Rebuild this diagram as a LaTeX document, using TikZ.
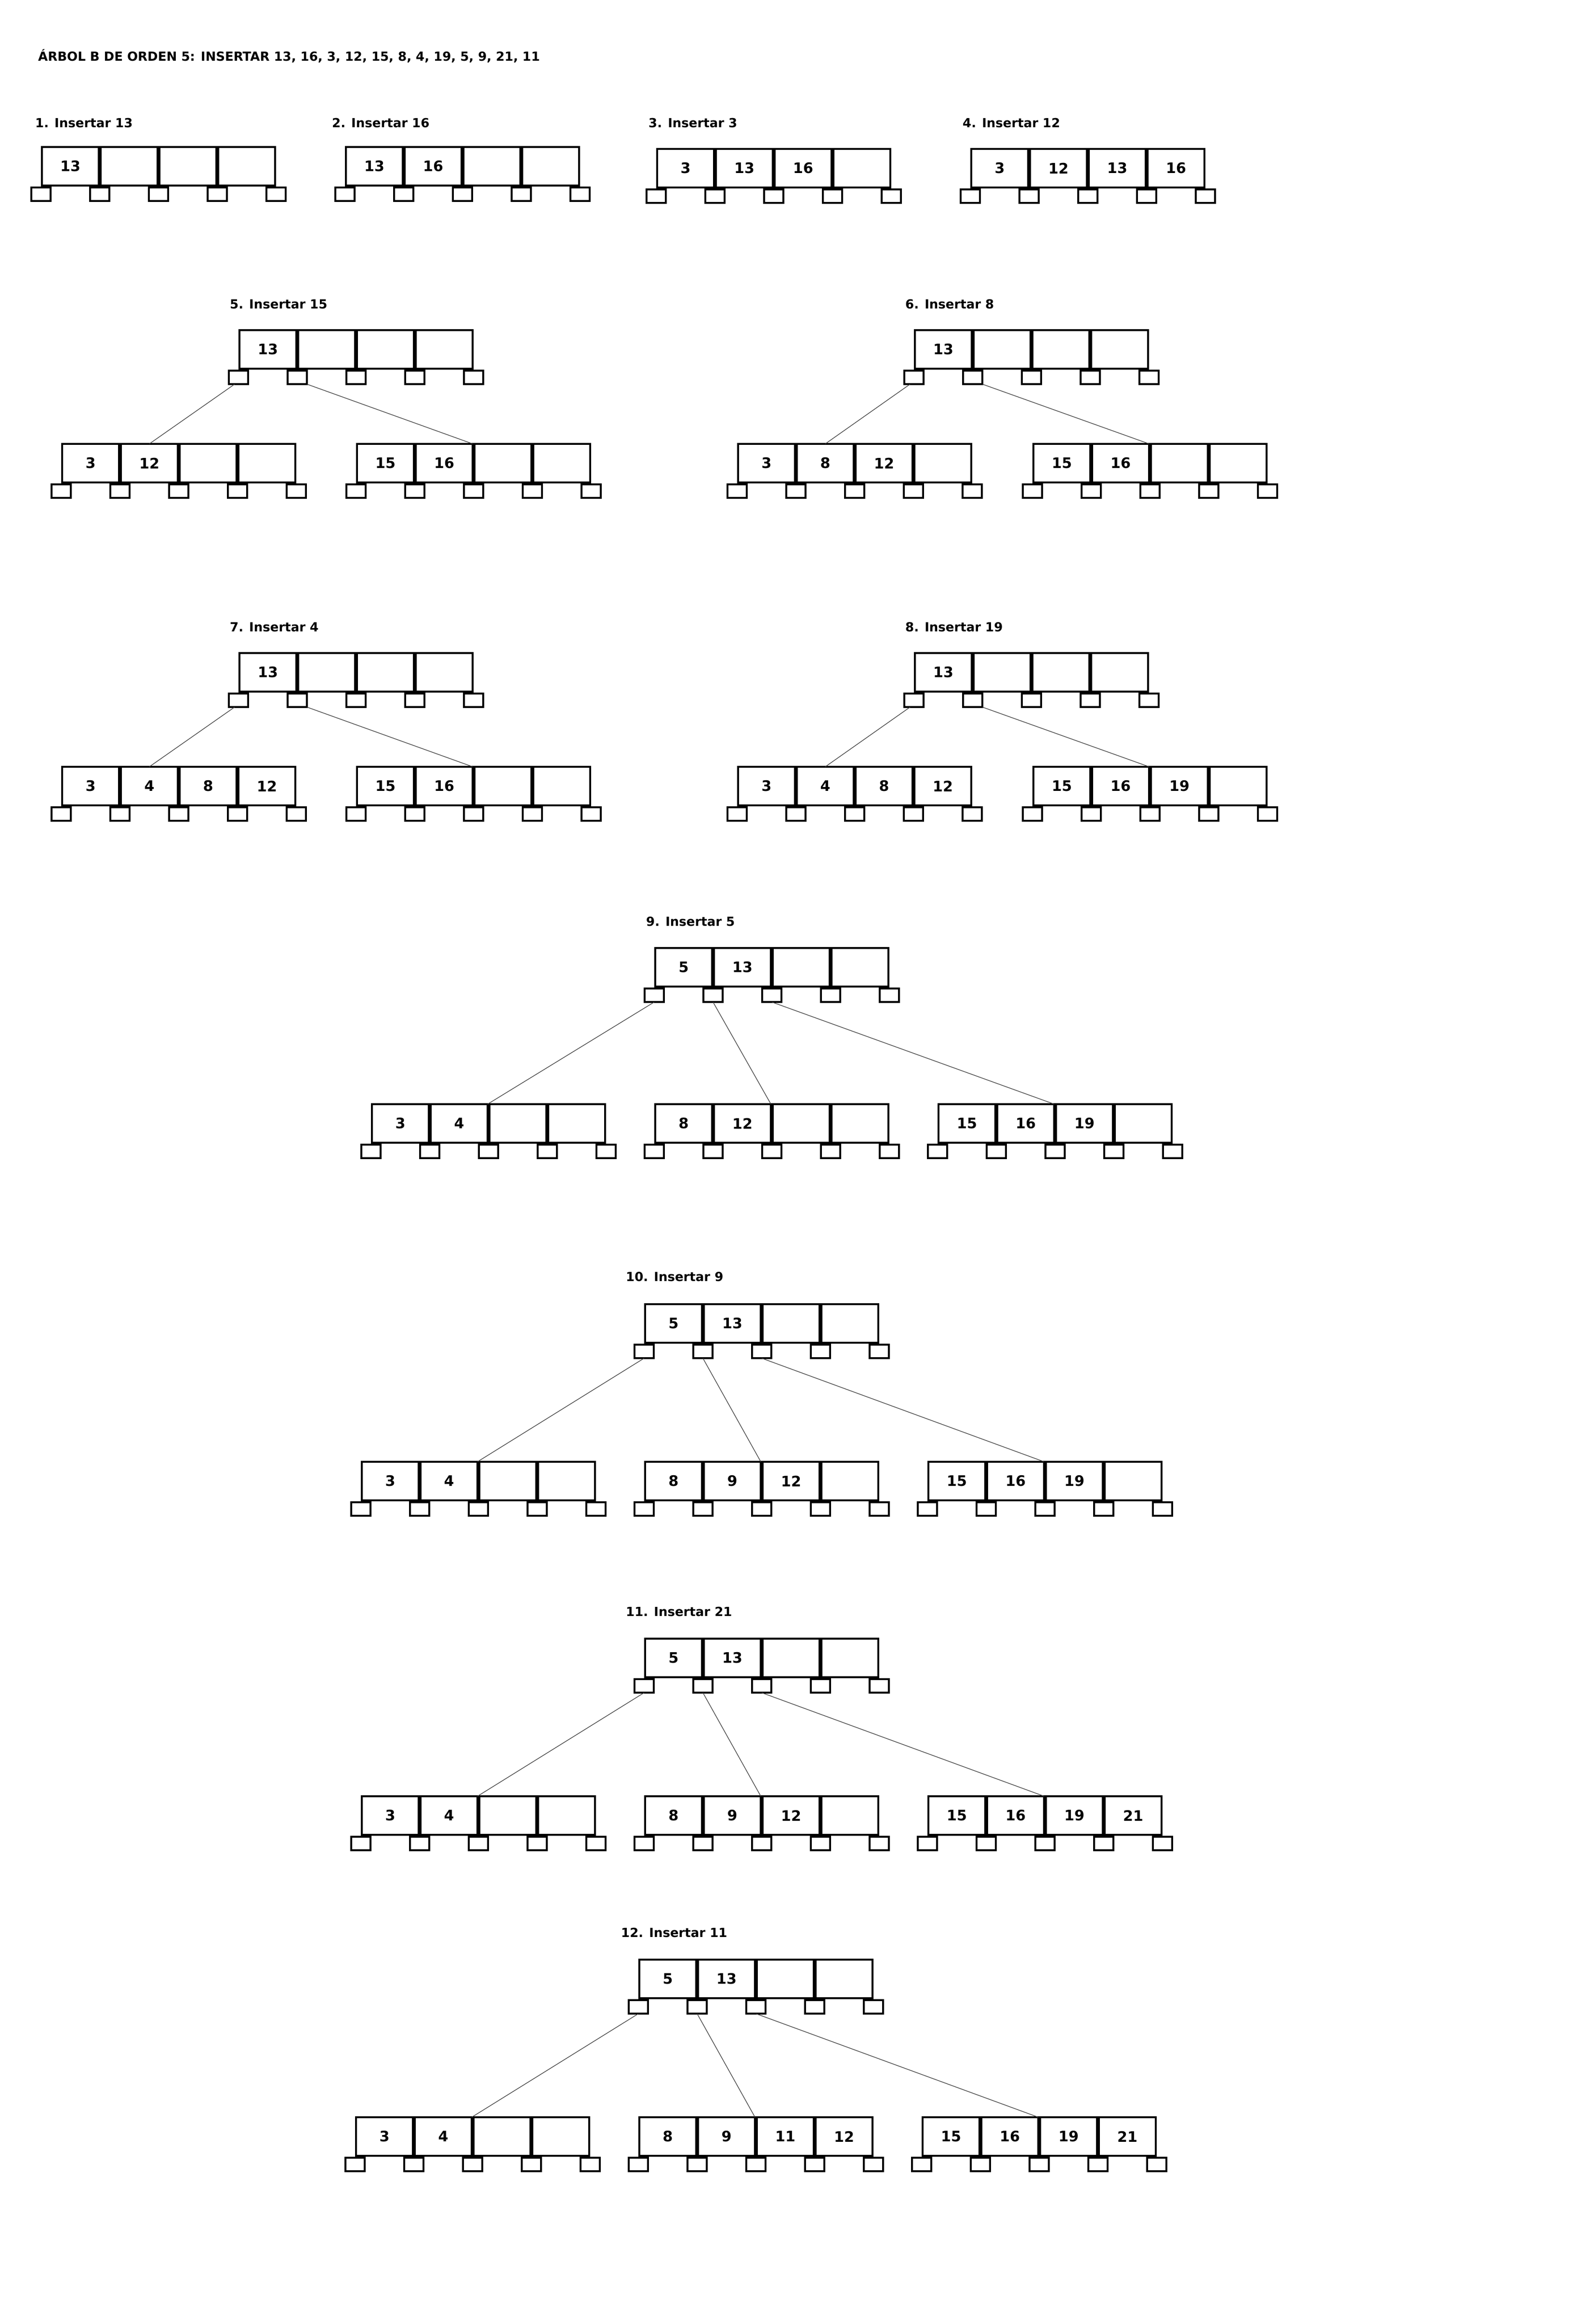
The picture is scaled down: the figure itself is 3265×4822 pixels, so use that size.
\documentclass[tikz,border=0pt]{standalone}
\usepackage{fontspec}
\setmainfont{DejaVu Sans}
\begin{document}
\begin{tikzpicture}[x=1pt,y=-1pt,
  cell/.style={draw=black,line width=3.8pt,minimum width=118.2pt,minimum height=80.2pt,inner sep=0pt,outer sep=0pt,font=\fontsize{30}{34}\selectfont\bfseries},
  ptr/.style={draw=black,line width=3.8pt,minimum width=40.2pt,minimum height=28.2pt,inner sep=0pt,outer sep=0pt},
  lbl/.style={inner sep=0pt,anchor=base west,font=\fontsize{26}{30}\selectfont\bfseries},
  link/.style={draw=black!75,line width=1.3pt}]
\newcommand{\btn}[7]{%
  \node[cell] (#1-c1) at ({#2+61},{#3+42}) {#4};
  \node[cell] (#1-c2) at ({#2+183},{#3+42}) {#5};
  \node[cell] (#1-c3) at ({#2+305},{#3+42}) {#6};
  \node[cell] (#1-c4) at ({#2+427},{#3+42}) {#7};
  \node[ptr] (#1-p0) at ({#2},{#3+100}) {};
  \node[ptr] (#1-p1) at ({#2+122},{#3+100}) {};
  \node[ptr] (#1-p2) at ({#2+244},{#3+100}) {};
  \node[ptr] (#1-p3) at ({#2+366},{#3+100}) {};
  \node[ptr] (#1-p4) at ({#2+488},{#3+100}) {};
}
\fill[white] (0,0) rectangle (3265,4822);
\useasboundingbox (0,0) rectangle (3265,4822);

\node[lbl] (title) at (79,126) {ÁRBOL B DE ORDEN 5: INSERTAR 13, 16, 3, 12, 15, 8, 4, 19, 5, 9, 21, 11};

% row 1
\node[lbl] (l1) at (73,264.5) {1. Insertar 13};
\node[lbl] (l2) at (689,264.5) {2. Insertar 16};
\node[lbl] (l3) at (1346,264.5) {3. Insertar 3};
\node[lbl] (l4) at (1998,264.5) {4. Insertar 12};
\btn{t1}{85}{303}{13}{}{}{}
\btn{t2}{716}{303}{13}{16}{}{}
\btn{t3}{1362}{307}{3}{13}{16}{}
\btn{t4}{2014}{307}{3}{12}{13}{16}

% row 2
\node[lbl] (l5) at (477,640.5) {5. Insertar 15};
\btn{t5r}{495}{683}{13}{}{}{}
\btn{t5a}{127}{919}{3}{12}{}{}
\btn{t5b}{739}{919}{15}{16}{}{}
\draw[link] ([xshift=-8pt]t5r-p0.south) -- (t5a-c2.north);
\draw[link] (t5r-p1.south east) -- (t5b-c2.north east);

\node[lbl] (l6) at (1879,640.5) {6. Insertar 8};
\btn{t6r}{1897}{683}{13}{}{}{}
\btn{t6a}{1530}{919}{3}{8}{12}{}
\btn{t6b}{2143}{919}{15}{16}{}{}
\draw[link] ([xshift=-8pt]t6r-p0.south) -- (t6a-c2.north);
\draw[link] (t6r-p1.south east) -- (t6b-c2.north east);

% row 3
\node[lbl] (l7) at (477,1310.5) {7. Insertar 4};
\btn{t7r}{495}{1353}{13}{}{}{}
\btn{t7a}{127}{1589}{3}{4}{8}{12}
\btn{t7b}{739}{1589}{15}{16}{}{}
\draw[link] ([xshift=-8pt]t7r-p0.south) -- (t7a-c2.north);
\draw[link] (t7r-p1.south east) -- (t7b-c2.north east);

\node[lbl] (l8) at (1879,1310.5) {8. Insertar 19};
\btn{t8r}{1897}{1353}{13}{}{}{}
\btn{t8a}{1530}{1589}{3}{4}{8}{12}
\btn{t8b}{2143}{1589}{15}{16}{19}{}
\draw[link] ([xshift=-8pt]t8r-p0.south) -- (t8a-c2.north);
\draw[link] (t8r-p1.south east) -- (t8b-c2.north east);

% tree 9
\node[lbl] (l9) at (1341,1921.5) {9. Insertar 5};
\btn{t9r}{1358}{1965}{5}{13}{}{}
\btn{t9a}{770}{2289}{3}{4}{}{}
\btn{t9b}{1358}{2289}{8}{12}{}{}
\btn{t9c}{1946}{2289}{15}{16}{19}{}
\draw[link] (t9r-p0.south) -- (t9a-c2.north east);
\draw[link] (t9r-p1.south) -- (t9b-c2.north east);
\draw[link] (t9r-p2.south) -- (t9c-c2.north east);

% tree 10
\node[lbl] (l10) at (1299,2658.5) {10. Insertar 9};
\btn{t10r}{1337}{2704}{5}{13}{}{}
\btn{t10a}{749}{3031}{3}{4}{}{}
\btn{t10b}{1337}{3031}{8}{9}{12}{}
\btn{t10c}{1925}{3031}{15}{16}{19}{}
\draw[link] (t10r-p0.south) -- (t10a-c2.north east);
\draw[link] (t10r-p1.south) -- (t10b-c2.north east);
\draw[link] (t10r-p2.south) -- (t10c-c2.north east);

% tree 11
\node[lbl] (l11) at (1299,3353.5) {11. Insertar 21};
\btn{t11r}{1337}{3398}{5}{13}{}{}
\btn{t11a}{749}{3725}{3}{4}{}{}
\btn{t11b}{1337}{3725}{8}{9}{12}{}
\btn{t11c}{1925}{3725}{15}{16}{19}{21}
\draw[link] (t11r-p0.south) -- (t11a-c2.north east);
\draw[link] (t11r-p1.south) -- (t11b-c2.north east);
\draw[link] (t11r-p2.south) -- (t11c-c2.north east);

% tree 12
\node[lbl] (l12) at (1289,4019.5) {12. Insertar 11};
\btn{t12r}{1325}{4064}{5}{13}{}{}
\btn{t12a}{737}{4391}{3}{4}{}{}
\btn{t12b}{1325}{4391}{8}{9}{11}{12}
\btn{t12c}{1913}{4391}{15}{16}{19}{21}
\draw[link] (t12r-p0.south) -- (t12a-c2.north east);
\draw[link] (t12r-p1.south) -- (t12b-c2.north east);
\draw[link] (t12r-p2.south) -- (t12c-c2.north east);
\end{tikzpicture}
\end{document}
